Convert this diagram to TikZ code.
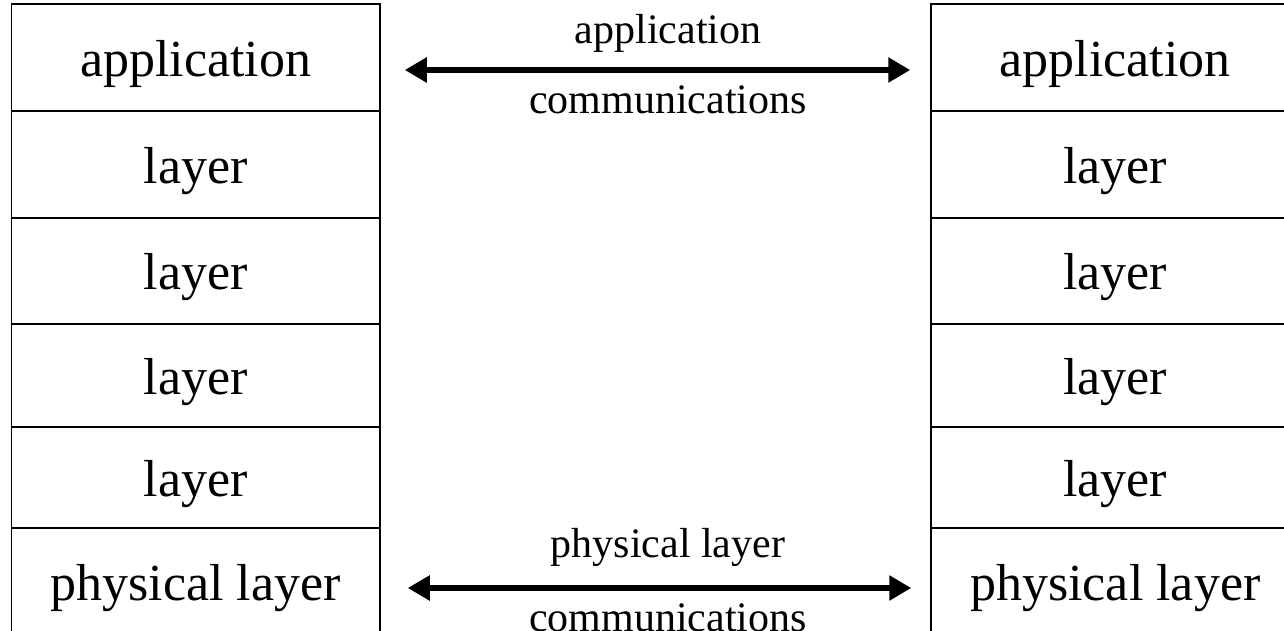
\documentclass[tikz,border=0pt]{standalone}
\usepackage{fontspec}
\setmainfont{Liberation Serif}
\usetikzlibrary{arrows.meta}
\begin{document}
\begin{tikzpicture}[x=1pt,y=-1pt,
  cell/.style={draw, line width=1.5pt, minimum width=368.5pt, inner sep=0pt,
    font=\fontsize{52}{60}\selectfont, text height=42pt, text depth=5pt},
  lbl/.style={font=\fontsize{42}{48}\selectfont, anchor=base, inner sep=0pt},
  conn/.style={line width=6.5pt, {Triangle[length=22pt,width=24pt]}-{Triangle[length=22pt,width=24pt]}}]
\useasboundingbox (0,0) rectangle (1284,630);
\clip (0,0) rectangle (1284,630);
% left protocol stack
\node[cell, minimum height=107pt] (L1) at (195.75,57.5)  {application};
\node[cell, minimum height=107pt] (L2) at (195.75,164.5) {layer};
\node[cell, minimum height=106pt] (L3) at (195.75,271)   {layer};
\node[cell, minimum height=103pt] (L4) at (195.75,375.5) {layer};
\node[cell, minimum height=101pt] (L5) at (195.75,477.5) {layer};
\node[cell, minimum height=108pt] (L6) at (195.75,582)   {physical layer};
% right protocol stack
\node[cell, minimum height=107pt] (R1) at (1115.25,57.5)  {application};
\node[cell, minimum height=107pt] (R2) at (1115.25,164.5) {layer};
\node[cell, minimum height=106pt] (R3) at (1115.25,271)   {layer};
\node[cell, minimum height=103pt] (R4) at (1115.25,375.5) {layer};
\node[cell, minimum height=101pt] (R5) at (1115.25,477.5) {layer};
\node[cell, minimum height=108pt] (R6) at (1115.25,582)   {physical layer};
% peer communication arrows
\draw[conn] ([xshift=24pt,yshift=-12.5pt]L1.east) -- ([xshift=-20pt,yshift=-12.5pt]R1.west);
\draw[conn] ([xshift=27pt,yshift=-6pt]L6.east) -- ([xshift=-19pt,yshift=-6pt]R6.west);
% arrow labels
\node[lbl] (t1) at (668,43)  {application};
\node[lbl] (t2) at (668,113) {communications};
\node[lbl] (b1) at (668,557) {physical layer};
\node[lbl] (b2) at (668,631) {communications};
\end{tikzpicture}
\end{document}
